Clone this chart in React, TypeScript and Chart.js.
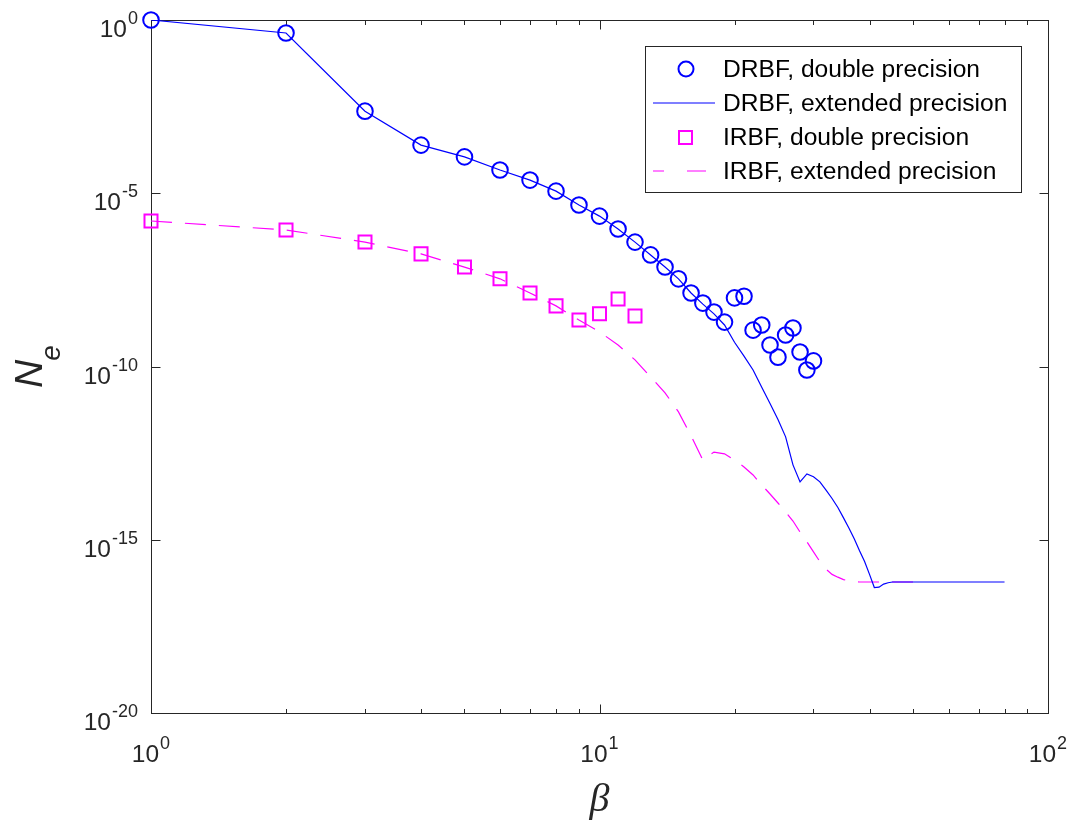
import React, { useEffect, useRef } from "react";
import { Chart, registerables } from "chart.js";

Chart.register(...registerables);

// ---------- data ----------
const drbfDoubleBeta = [1, 2, 3, 4, 5, 6, 7, 8, 9, 10, 11, 12, 13, 14, 15, 16, 17, 18, 19, 20, 21, 22, 23, 24, 25, 26, 27, 28, 29, 30];
const drbfDouble = [1, 0.422, 2.34e-3, 2.45e-4, 1.12e-4, 4.68e-5, 2.4e-5, 1.15e-5, 4.57e-6, 2.19e-6, 9.33e-7, 3.89e-7, 1.66e-7, 7.41e-8, 3.39e-8, 1.32e-8, 6.76e-9, 3.72e-9, 1.91e-9, 9.55e-9, 1.07e-8, 1.12e-9, 1.58e-9, 4.17e-10, 1.86e-10, 8.13e-10, 1.29e-9, 2.63e-10, 7.94e-11, 1.45e-10];

const drbfExtBeta = [1, 2, 3, 4, 5, 6, 7, 8, 9, 10, 11, 12, 13, 14, 15, 16, 17, 18, 19, 20, 21, 22, 23, 24, 25, 26, 27, 28, 29, 30, 31, 32, 33, 34, 35, 36, 37, 38, 39, 40, 41, 42, 43, 44, 45, 50, 60, 70, 80];
const drbfExt = [1, 0.422, 2.34e-3, 2.45e-4, 1.12e-4, 4.68e-5, 2.4e-5, 1.15e-5, 4.57e-6, 2.19e-6, 9.33e-7, 3.89e-7, 1.66e-7, 7.41e-8, 3.39e-8, 1.32e-8, 6.31e-9, 3.31e-9, 1.58e-9, 5.01e-10, 2.0e-10, 7.94e-11, 2.51e-11, 8.51e-12, 2.95e-12, 9.33e-13, 1.45e-13, 4.68e-14, 7.94e-14, 6.61e-14, 4.68e-14, 2.69e-14, 1.55e-14, 8.51e-15, 4.27e-15, 2.14e-15, 1.05e-15, 4.79e-16, 2.34e-16, 1.0e-16, 4.17e-17, 4.27e-17, 5.25e-17, 5.75e-17, 6.03e-17, 6.03e-17, 6.03e-17, 6.03e-17, 6.03e-17];

const irbfDoubleBeta = [1, 2, 3, 4, 5, 6, 7, 8, 9, 10, 11, 12];
const irbfDouble = [1.58e-6, 8.71e-7, 3.89e-7, 1.78e-7, 7.41e-8, 3.39e-8, 1.32e-8, 5.62e-9, 2.19e-9, 3.31e-9, 8.91e-9, 2.88e-9];

const irbfExtBeta = [1, 2, 3, 4, 5, 6, 7, 8, 9, 10, 11, 12, 13, 14, 15, 16, 17, 18, 19, 20, 21, 22, 23, 24, 25, 26, 27, 28, 29, 30, 31, 32, 33, 34, 35, 36, 38, 50];
const irbfExt = [1.58e-6, 8.71e-7, 3.89e-7, 1.78e-7, 7.41e-8, 3.39e-8, 1.32e-8, 5.62e-9, 2.19e-9, 1.0e-9, 4.17e-10, 1.55e-10, 5.01e-11, 1.74e-11, 4.9e-12, 1.0e-12, 2.0e-13, 3.39e-13, 3.02e-13, 2.0e-13, 1.26e-13, 7.41e-14, 3.8e-14, 2.09e-14, 1.15e-14, 6.31e-15, 3.47e-15, 1.66e-15, 8.71e-16, 4.47e-16, 2.34e-16, 1.41e-16, 1.0e-16, 8.32e-17, 7.08e-17, 6.46e-17, 6.03e-17, 6.03e-17];

const xMajorTicks = [1, 10, 100];
const xMajorExp = ["0", "1", "2"];
const xMinorTicks = [2, 3, 4, 5, 6, 7, 8, 9, 20, 30, 40, 50, 60, 70, 80, 90];
const yMajorTicks = [1, 1e-5, 1e-10, 1e-15, 1e-20];
const yMajorExp = ["0", "-5", "-10", "-15", "-20"];

const legendLabels = [
  "DRBF, double precision",
  "DRBF, extended precision",
  "IRBF, double precision",
  "IRBF, extended precision",
];

const BLUE = "#0000FF";
const MAGENTA = "#FF00FF";
const AX = "#262626";
const SANS = '"Liberation Sans", Arial, sans-serif';

const pts = (xs: number[], ys: number[]) => xs.map((x, i) => ({ x, y: ys[i] }));

const matlabAxes = {
  id: "matlabAxes",
  beforeDatasetsDraw(chart: any) {
    const { ctx, chartArea: a, scales } = chart;
    const xs = scales.x;
    const ys = scales.y;
    ctx.save();
    ctx.strokeStyle = AX;
    ctx.lineWidth = 1;
    const L = a.left + 0.5, R = a.right + 0.5, T = a.top + 0.5, B = a.bottom + 0.5;
    ctx.strokeRect(L, T, R - L, B - T);
    ctx.beginPath();
    const major = 9, minor = 4.5;
    xMajorTicks.forEach((v) => {
      const px = Math.round(xs.getPixelForValue(v)) + 0.5;
      ctx.moveTo(px, B); ctx.lineTo(px, B - major);
      ctx.moveTo(px, T); ctx.lineTo(px, T + major);
    });
    xMinorTicks.forEach((v) => {
      const px = Math.round(xs.getPixelForValue(v)) + 0.5;
      ctx.moveTo(px, B); ctx.lineTo(px, B - minor);
      ctx.moveTo(px, T); ctx.lineTo(px, T + minor);
    });
    yMajorTicks.forEach((v) => {
      const py = Math.round(ys.getPixelForValue(v)) + 0.5;
      ctx.moveTo(L, py); ctx.lineTo(L + major, py);
      ctx.moveTo(R, py); ctx.lineTo(R - major, py);
    });
    ctx.stroke();

    // tick labels
    ctx.fillStyle = AX;
    ctx.textBaseline = "alphabetic";
    ctx.textAlign = "left";
    const bigF = `24.5px ${SANS}`;
    const smallF = `18px ${SANS}`;
    ctx.font = bigF;
    const w10 = ctx.measureText("10").width;
    xMajorTicks.forEach((v, i) => {
      const px = xs.getPixelForValue(v);
      ctx.font = smallF;
      const wE = ctx.measureText(xMajorExp[i]).width;
      const total = w10 + 1 + wE;
      const sx = px - total / 2;
      ctx.font = bigF;
      ctx.fillText("10", sx, a.bottom + 49);
      ctx.font = smallF;
      ctx.fillText(xMajorExp[i], sx + w10 + 1, a.bottom + 36);
    });
    yMajorTicks.forEach((v, i) => {
      const py = ys.getPixelForValue(v);
      ctx.font = smallF;
      const wE = ctx.measureText(yMajorExp[i]).width;
      const right = a.left - 13;
      const ex = right - wE;
      ctx.fillText(yMajorExp[i], ex, py + 4);
      ctx.font = bigF;
      ctx.fillText("10", ex - 1 - w10, py + 17);
    });

    // x title
    ctx.font = `italic 40px "Liberation Serif", "DejaVu Serif", serif`;
    ctx.textAlign = "center";
    ctx.fillText("β", (a.left + a.right) / 2, 811);

    // y title
    ctx.save();
    ctx.translate(42, 388);
    ctx.rotate(-Math.PI / 2);
    ctx.textAlign = "left";
    ctx.font = `italic 39px ${SANS}`;
    ctx.fillText("N", 0, 0);
    const wN = ctx.measureText("N").width;
    ctx.font = `italic 28px ${SANS}`;
    ctx.fillText("e", wN - 1, 18);
    ctx.restore();
    ctx.restore();
  },
  afterDraw(chart: any) {
    const { ctx } = chart;
    ctx.save();
    const bx = 645, by = 46, bw = 376, bh = 146;
    ctx.fillStyle = "#FFFFFF";
    ctx.fillRect(bx, by, bw, bh);
    ctx.strokeStyle = AX;
    ctx.lineWidth = 1;
    ctx.strokeRect(bx + 0.5, by + 0.5, bw, bh);
    const rows = [69, 103, 137.5, 171];
    // circle
    ctx.strokeStyle = BLUE;
    ctx.lineWidth = 2;
    ctx.beginPath();
    ctx.arc(686, rows[0], 7.5, 0, Math.PI * 2);
    ctx.stroke();
    // solid line
    ctx.lineWidth = 1.2;
    ctx.beginPath();
    ctx.moveTo(653, rows[1]);
    ctx.lineTo(715, rows[1]);
    ctx.stroke();
    // square
    ctx.strokeStyle = MAGENTA;
    ctx.lineWidth = 2;
    ctx.strokeRect(679, rows[2] - 6.5, 13, 13);
    // dashed
    ctx.lineWidth = 1.2;
    ctx.beginPath();
    ctx.moveTo(653, rows[3]);
    ctx.lineTo(664, rows[3]);
    ctx.moveTo(687, rows[3]);
    ctx.lineTo(706, rows[3]);
    ctx.stroke();
    // text
    ctx.fillStyle = "#000000";
    ctx.font = `24.6px ${SANS}`;
    ctx.textAlign = "left";
    ctx.textBaseline = "middle";
    legendLabels.forEach((t, i) => ctx.fillText(t, 723, rows[i] + 1));
    ctx.restore();
  },
};

export default function App() {
  const ref = useRef<HTMLCanvasElement | null>(null);
  useEffect(() => {
    if (!ref.current) return;
    const chart = new Chart(ref.current, {
      type: "scatter",
      data: {
        datasets: [
          {
            label: legendLabels[0],
            data: pts(drbfDoubleBeta, drbfDouble),
            showLine: false,
            pointStyle: "circle",
            pointRadius: 7.8,
            pointBorderWidth: 2,
            pointBorderColor: BLUE,
            pointBackgroundColor: "rgba(0,0,0,0)",
            borderColor: BLUE,
            clip: false,
          } as any,
          {
            label: legendLabels[1],
            data: pts(drbfExtBeta, drbfExt),
            showLine: true,
            pointRadius: 0,
            borderColor: BLUE,
            borderWidth: 1.2,
            tension: 0,
          } as any,
          {
            label: legendLabels[2],
            data: pts(irbfDoubleBeta, irbfDouble),
            showLine: false,
            pointStyle: "rect",
            pointRadius: 9.2,
            pointBorderWidth: 2,
            pointBorderColor: MAGENTA,
            pointBackgroundColor: "rgba(0,0,0,0)",
            borderColor: MAGENTA,
            clip: false,
          } as any,
          {
            label: legendLabels[3],
            data: pts(irbfExtBeta, irbfExt),
            showLine: true,
            pointRadius: 0,
            borderColor: MAGENTA,
            borderWidth: 1.2,
            borderDash: [21, 13],
            tension: 0,
          } as any,
        ],
      },
      options: {
        animation: false,
        responsive: false,
        devicePixelRatio: 1,
        layout: { padding: { left: 151, top: 20, right: 30, bottom: 114 } },
        plugins: { legend: { display: false }, tooltip: { enabled: false } },
        events: [],
        scales: {
          x: { type: "logarithmic", min: 1, max: 100, display: false },
          y: { type: "logarithmic", min: 1e-20, max: 1, display: false },
        },
      },
      plugins: [matlabAxes],
    } as any);
    return () => chart.destroy();
  }, []);
  return (
    <div style={{ position: "fixed", left: 0, top: 0, width: 1078, height: 827, background: "#fff" }}>
      <canvas ref={ref} width={1078} height={827} style={{ display: "block" }} />
    </div>
  );
}
